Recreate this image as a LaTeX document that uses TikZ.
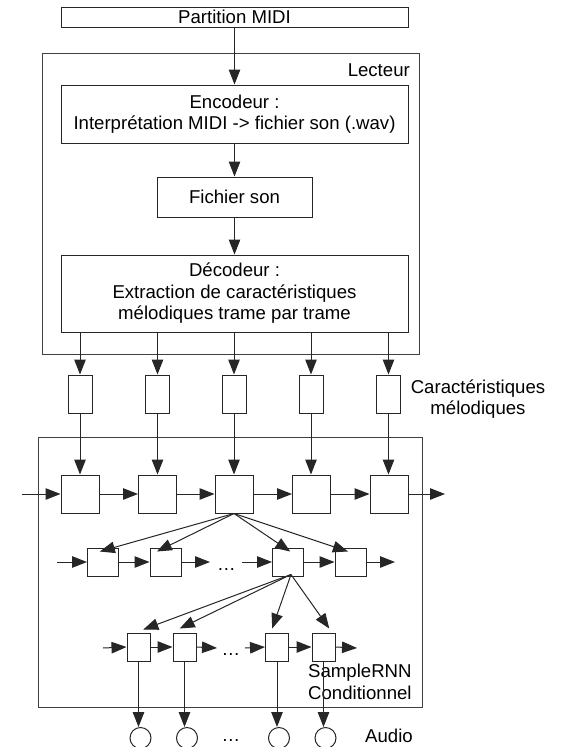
\documentclass[tikz,border=0pt]{standalone}
\usepackage{fontspec}
\setmainfont{Liberation Sans}
\usetikzlibrary{arrows.meta,calc}
\begin{document}
\begin{tikzpicture}[x=1pt,y=-1pt,
  every node/.style={font=\fontsize{18.6}{21.5}\selectfont, inner sep=0pt, text=black},
  boxstyle/.style={draw=black!85, line width=1pt, fill=white, align=center},
  frame/.style={draw=black!75, line width=1pt},
  arr/.style={draw=black!85, line width=1pt, -{Triangle[length=15pt,width=11.5pt]}},
  plainline/.style={draw=black!85, line width=1pt}
]
\useasboundingbox (0,0) rectangle (560,747);
\fill[white] (0,0) rectangle (560,747);

% containers
\node[frame, minimum width=377pt, minimum height=301pt] (lect) at (230.5,203.5) {};
\node[frame, minimum width=384pt, minimum height=270pt] (srnn) at (230,572) {};
\node[anchor=base east] (lectlbl) at (410,76) {Lecteur};

% top chain
\node[boxstyle, minimum width=347pt, minimum height=20pt] (part) at (234.5,17) {Partition MIDI};
\node[boxstyle, minimum width=347pt, minimum height=58pt] (enc) at (234.5,114) {Encodeur :\\Interprétation MIDI -> fichier son (.wav)};
\node[boxstyle, minimum width=155pt, minimum height=40pt] (fic) at (234.5,197) {Fichier son};
\node[boxstyle, minimum width=347pt, minimum height=77pt] (dec) at (234.5,293.5) {Décodeur :\\Extraction de caractéristiques\\mélodiques trame par trame};

\draw[arr] (part.south) -- (enc.north);
\draw[arr] (enc.south) -- (fic.north);
\draw[arr] (fic.south) -- (dec.north);

% feature boxes
\foreach \i/\x in {1/80,2/157.5,3/234,4/311,5/388.5}
  \node[boxstyle, minimum width=24pt, minimum height=38pt] (f\i) at (\x,394) {};
\node[align=center] (carlbl) at (478,399) {Caractéristiques\\mélodiques};

% tier 1
\foreach \i/\x in {1/80,2/157.5,3/234,4/311.5,5/389}
  \node[boxstyle, minimum width=38pt, minimum height=38pt] (a\i) at (\x,494) {};

\foreach \i in {1,...,5}{
  \draw[arr] (f\i.north |- dec.south) -- (f\i.north);
  \draw[arr] (f\i.south) -- (f\i.south |- a\i.north);
}
\coordinate (in1) at (22,494);
\coordinate (out1) at (445,494);
\draw[arr] (in1) -- (a1.west);
\foreach \i/\j in {1/2,2/3,3/4,4/5} \draw[arr] (a\i.east) -- (a\j.west);
\draw[arr] (a5.east) -- (out1);

% tier 2
\foreach \i/\x in {1/103,2/165.5,3/288,4/350.5}
  \node[boxstyle, minimum width=31pt, minimum height=28pt] (b\i) at (\x,562) {};
\coordinate (in2) at (57,562);
\coordinate (g2a) at (210,562);
\coordinate (g2b) at (242,562);
\coordinate (out2) at (395,562);
\draw[arr] (in2) -- (b1.west);
\draw[arr] (b1.east) -- (b2.west);
\draw[arr] (b2.east) -- (g2a);
\draw[arr] (g2b) -- (b3.west);
\draw[arr] (b3.east) -- (b4.west);
\draw[arr] (b4.east) -- (out2);
\node[anchor=base] (dots2) at (226.5,570) {…};

\draw[arr] (a3.south) -- ($(b1.north west)!0.4!(b1.north east)+(0,4)$);
\draw[arr] (a3.south) -- ($(b2.north west)!0.23!(b2.north east)+(0,4)$);
\draw[arr] (a3.south) -- ($(b3.north west)!0.57!(b3.north east)+(0,4)$);
\draw[arr] (a3.south) -- ($(b4.north west)!0.42!(b4.north east)+(0,4)$);

% tier 3
\foreach \i/\x in {1/138.5,2/184.5,3/277,4/323.5}
  \node[boxstyle, minimum width=23pt, minimum height=28pt] (c\i) at (\x,647) {};
\coordinate (in3) at (103,648);
\coordinate (g3a) at (217,648);
\coordinate (g3b) at (245,648);
\coordinate (out3) at (357,648);
\draw[arr] (in3) -- (c1.west);
\draw[arr] (c1.east) -- (c2.west);
\draw[arr] (c2.east) -- (g3a);
\draw[arr] (g3b) -- (c3.west);
\draw[arr] (c3.east) -- (c4.west);
\draw[arr] (c4.east) -- (out3);
\node[anchor=base] (dots3) at (231,655) {…};

\coordinate (fan3) at ($(b3.south)+(3,-2)$);
\draw[arr] (fan3) -- ($(c1.north west)!0.7!(c1.north east)+(0,-3)$);
\draw[arr] (fan3) -- ($(c2.north west)!0.3!(c2.north east)+(0,-4)$);
\draw[arr] (fan3) -- ($(c3.north west)!0.3!(c3.north east)+(0,-4)$);
\draw[arr] (fan3) -- ($(c4.north west)!0.74!(c4.north east)+(0,-4)$);

\node[align=left, anchor=west] (srnnlbl) at (308,682) {SampleRNN\\Conditionnel};

% audio
\foreach \i/\x in {1/140.5,2/187,3/279,4/325.5}
  \node[circle, draw=black!85, line width=1pt, minimum size=21pt] (o\i) at (\x,738) {};
\foreach \i in {1,...,4}
  \draw[arr] (c\i.south) -- (c\i.south |- o\i.north);
\node[anchor=base] (dots4) at (231,741) {…};
\node[anchor=base west] (audio) at (365,742) {Audio};
\end{tikzpicture}
\end{document}
